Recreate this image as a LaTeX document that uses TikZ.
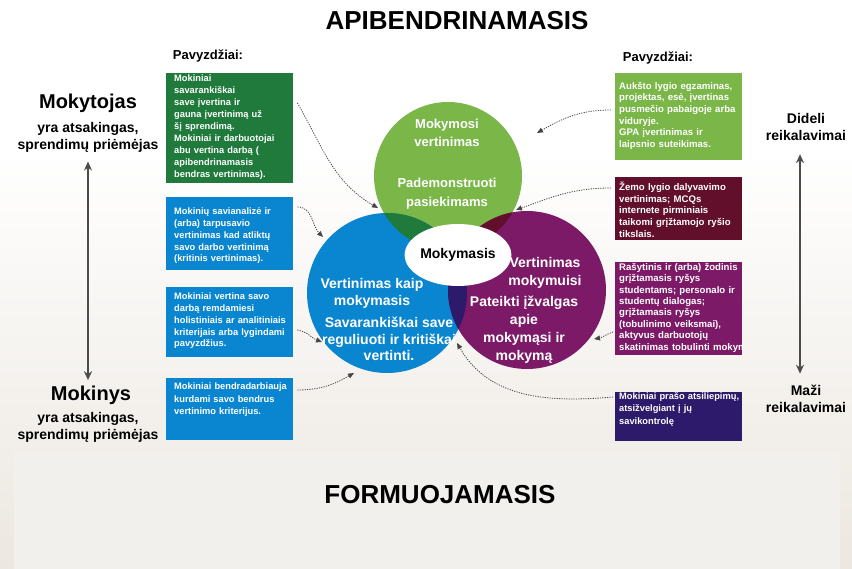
\documentclass[tikz,border=0pt]{standalone}
\usepackage{fontspec}
\setmainfont{Liberation Sans}
\usetikzlibrary{arrows.meta,shapes.geometric}
\definecolor{dgreen}{HTML}{1F7A3C}
\definecolor{lgreen}{HTML}{7AB648}
\definecolor{cblue}{HTML}{0A86D0}
\definecolor{cpurple}{HTML}{7D1A68}
\definecolor{cmaroon}{HTML}{620F2C}
\definecolor{cindigo}{HTML}{2E1A6A}
\definecolor{bgb}{HTML}{ECE7E0}
\definecolor{bgl}{HTML}{F2F0EC}

\begin{document}
\begin{tikzpicture}[x=1pt,y=-1pt,
  exbox/.style={anchor=north west,minimum width=127pt,inner sep=0pt},
  extext/.style={anchor=north west,text=white,align=left,inner xsep=8pt,inner ysep=5pt,text width=116pt,
    font=\bfseries\fontsize{9.3}{11.7}\selectfont},
  rtext/.style={extext,inner xsep=4pt,text width=124pt,font=\bfseries\fontsize{9.6}{11.6}\selectfont},
  hint/.style={dash pattern=on 1.2pt off 1.2pt,line width=0.8pt,gray!55!black,-{Triangle[length=6pt,width=5pt]}},
  side/.style={align=center,font=\bfseries\fontsize{14}{17}\selectfont},
  ctext/.style={text=white,align=center,font=\bfseries\fontsize{14}{17}\selectfont}]
\useasboundingbox (0,0) rectangle (852,569);
% background
\fill[white] (0,0) rectangle (852,569);
\shade[top color=white,bottom color=bgb] (0,150) rectangle (852,569);
\fill[bgl] (14,452) rectangle (840,569);

% titles
\node[font=\bfseries\fontsize{26}{30}\selectfont] (apib) at (457,21) {APIBENDRINAMASIS};
\node[font=\bfseries\fontsize{26}{30}\selectfont] (formuo) at (440,495) {FORMUOJAMASIS};
\node[font=\bfseries\fontsize{13}{15}\selectfont] (pavl) at (208,56) {Pavyzdžiai:};
\node[font=\bfseries\fontsize{13}{15}\selectfont] (pavr) at (658,58) {Pavyzdžiai:};

% left side
\node[font=\bfseries\fontsize{20}{24}\selectfont] (teach) at (88,103) {Mokytojas};
\node[side] (teachsub) at (88,137) {yra atsakingas,\\sprendimų priėmėjas};
\node[font=\bfseries\fontsize{20}{24}\selectfont] (stud) at (91,395) {Mokinys};
\node[side] (studsub) at (88,427) {yra atsakingas,\\sprendimų priėmėjas};
\draw[{Stealth[length=9pt,width=8pt]}-{Stealth[length=9pt,width=8pt]},line width=1.3pt,gray!60!black,shorten <=6pt,shorten >=2pt] (teachsub.south) -- (stud.north -| teachsub.south);

% right side
\node[side] (hard) at (806,127) {Dideli\\reikalavimai};
\node[side] (easy) at (806,399) {Maži\\reikalavimai};
\draw[{Stealth[length=9pt,width=8pt]}-{Stealth[length=9pt,width=8pt]},line width=1.3pt,gray!60!black,shorten <=10pt,shorten >=8pt] ([xshift=-6pt]hard.south) -- ([xshift=-6pt]easy.north);

% left examples
\node[exbox,fill=dgreen,minimum height=110pt] (lg) at (166,73) {};
\node[extext,inner ysep=2pt,font=\bfseries\fontsize{9.3}{12}\selectfont] (lgt) at (lg.north west) {Mokiniai\\savarankiškai\\save įvertina ir\\gauna įvertinimą už\\šį sprendimą.\\Mokiniai ir darbuotojai\\abu vertina darbą (\\apibendrinamasis\\bendras vertinimas).};
\node[exbox,fill=cblue,minimum height=73pt] (lb1) at (166,197) {};
\node[extext,inner ysep=11pt] (lb1t) at (lb1.north west) {Mokinių savianalizė ir\\(arba) tarpusavio\\vertinimas kad atliktų\\savo darbo vertinimą\\(kritinis vertinimas).};
\node[exbox,fill=cblue,minimum height=70pt] (lb2) at (166,287) {};
\node[extext,inner ysep=6pt] (lb2t) at (lb2.north west) {Mokiniai vertina savo\\darbą remdamiesi\\holistiniais ar analitiniais\\kriterijais arba lygindami\\pavyzdžius.};
\node[exbox,fill=cblue,minimum height=62pt] (lb3) at (166,378) {};
\node[extext,font=\bfseries\fontsize{9.3}{12.5}\selectfont] (lb3t) at (lb3.north west) {Mokiniai bendradarbiauja\\kurdami savo bendrus\\vertinimo kriterijus.};

% right examples
\node[exbox,fill=lgreen,minimum height=87pt] (rg) at (615,73) {};
\node[rtext,inner ysep=9pt] (rgt) at (rg.north west) {Aukšto lygio egzaminas,\\projektas, esė, įvertinas\\pusmečio pabaigoje arba\\viduryje.\\GPA įvertinimas ir\\laipsnio suteikimas.};
\node[exbox,fill=cmaroon,minimum height=63pt] (rm) at (615,177) {};
\node[rtext] (rmt) at (rm.north west) {Žemo lygio dalyvavimo\\vertinimas; MCQs\\internete pirminiais\\taikomi grįžtamojo ryšio\\tikslais.};
\node[exbox,fill=cpurple,minimum height=93pt] (rp) at (615,262) {};
\begin{scope}
  \clip (rp.north west) rectangle (rp.south east);
  \node[rtext,inner ysep=1pt,font=\bfseries\fontsize{9.6}{11.4}\selectfont] (rpt) at (rp.north west) {Rašytinis ir (arba) žodinis\\grįžtamasis ryšys\\studentams; personalo ir\\studentų dialogas;\\grįžtamasis ryšys\\(tobulinimo veiksmai),\\aktyvus darbuotojų\\\makebox[\linewidth][l]{skatinimas tobulinti mokymą}};
\end{scope}
\node[exbox,fill=cindigo,minimum height=49pt] (ri) at (615,392) {};
\node[rtext,inner ysep=0pt,font=\bfseries\fontsize{9.3}{12.5}\selectfont] (rit) at (ri.north west) {Mokiniai prašo atsiliepimų,\\atsižvelgiant į jų\\savikontrolę};

% circles
\node[circle,fill=lgreen,minimum size=148pt,inner sep=0pt] (gcirc) at (448,176) {};
\node[circle,fill=cblue,minimum size=160pt,inner sep=0pt] (bcirc) at (387,293) {};
\node[circle,fill=cpurple,minimum size=158pt,inner sep=0pt] (pcirc) at (527,290) {};
\begin{scope}
  \clip (387,293) circle[radius=80];
  \fill[dgreen] (448,176) circle[radius=74];
\end{scope}
\begin{scope}
  \clip (527,290) circle[radius=79];
  \fill[cmaroon] (448,176) circle[radius=74];
\end{scope}
\begin{scope}
  \clip (527,290) circle[radius=79];
  \fill[cindigo] (387,293) circle[radius=80];
\end{scope}
\node[ellipse,fill=white,minimum width=84pt,minimum height=62pt,inner sep=0pt,
  font=\bfseries\fontsize{14}{16}\selectfont] (core) at (458,255) {Mokymasis};

\node[ctext,font=\bfseries\fontsize{13}{18}\selectfont] (gt1) at (447,133) {Mokymosi\\vertinimas};
\node[ctext,font=\bfseries\fontsize{13}{19}\selectfont] (gt2) at (447,194) {Pademonstruoti\\pasiekimams};
\node[ctext] (bt1) at (372,293) {Vertinimas kaip\\mokymasis};
\node[ctext,font=\bfseries\fontsize{14}{16.5}\selectfont] (bt2) at (389,339) {Savarankiškai save\\reguliuoti ir kritiškai\\vertinti.};
\node[ctext,font=\bfseries\fontsize{14}{18}\selectfont] (pt1) at (545,273) {Vertinimas\\mokymuisi};
\node[ctext,font=\bfseries\fontsize{14}{18}\selectfont] (pt2) at (524,330) {Pateikti įžvalgas\\apie\\mokymąsi ir\\mokymą};

% dotted hints
\coordinate (e1) at (378,208);
\coordinate (e2) at (323,237);
\coordinate (e3) at (322,342);
\coordinate (e4) at (354,373);
\coordinate (e5) at (537,133);
\coordinate (e6) at (516,210);
\coordinate (e7) at (594,339);
\coordinate (e8) at (457,343);
\draw[hint] ([shift={(4,30)}]lg.north east) to[out=-60,in=150] (e1);
\draw[hint] ([shift={(4,10)}]lb1.north east) to[out=0,in=135] (e2);
\draw[hint] ([shift={(4,43)}]lb2.north east) to[out=-10,in=160] (e3);
\draw[hint] ([shift={(4,12)}]lb3.north east) to[out=0,in=-150] (e4);
\draw[hint] ([shift={(-4,37)}]rg.north west) to[out=180,in=30] (e5);
\draw[hint] ([shift={(-4,11)}]rm.north west) to[out=180,in=20] (e6);
\draw[hint] ([shift={(-2,70)}]rp.north west) to[out=200,in=10] (e7);
\draw[hint] ([shift={(-2,5)}]ri.north west) to[out=185,in=-60] (e8);
\end{tikzpicture}
\end{document}
